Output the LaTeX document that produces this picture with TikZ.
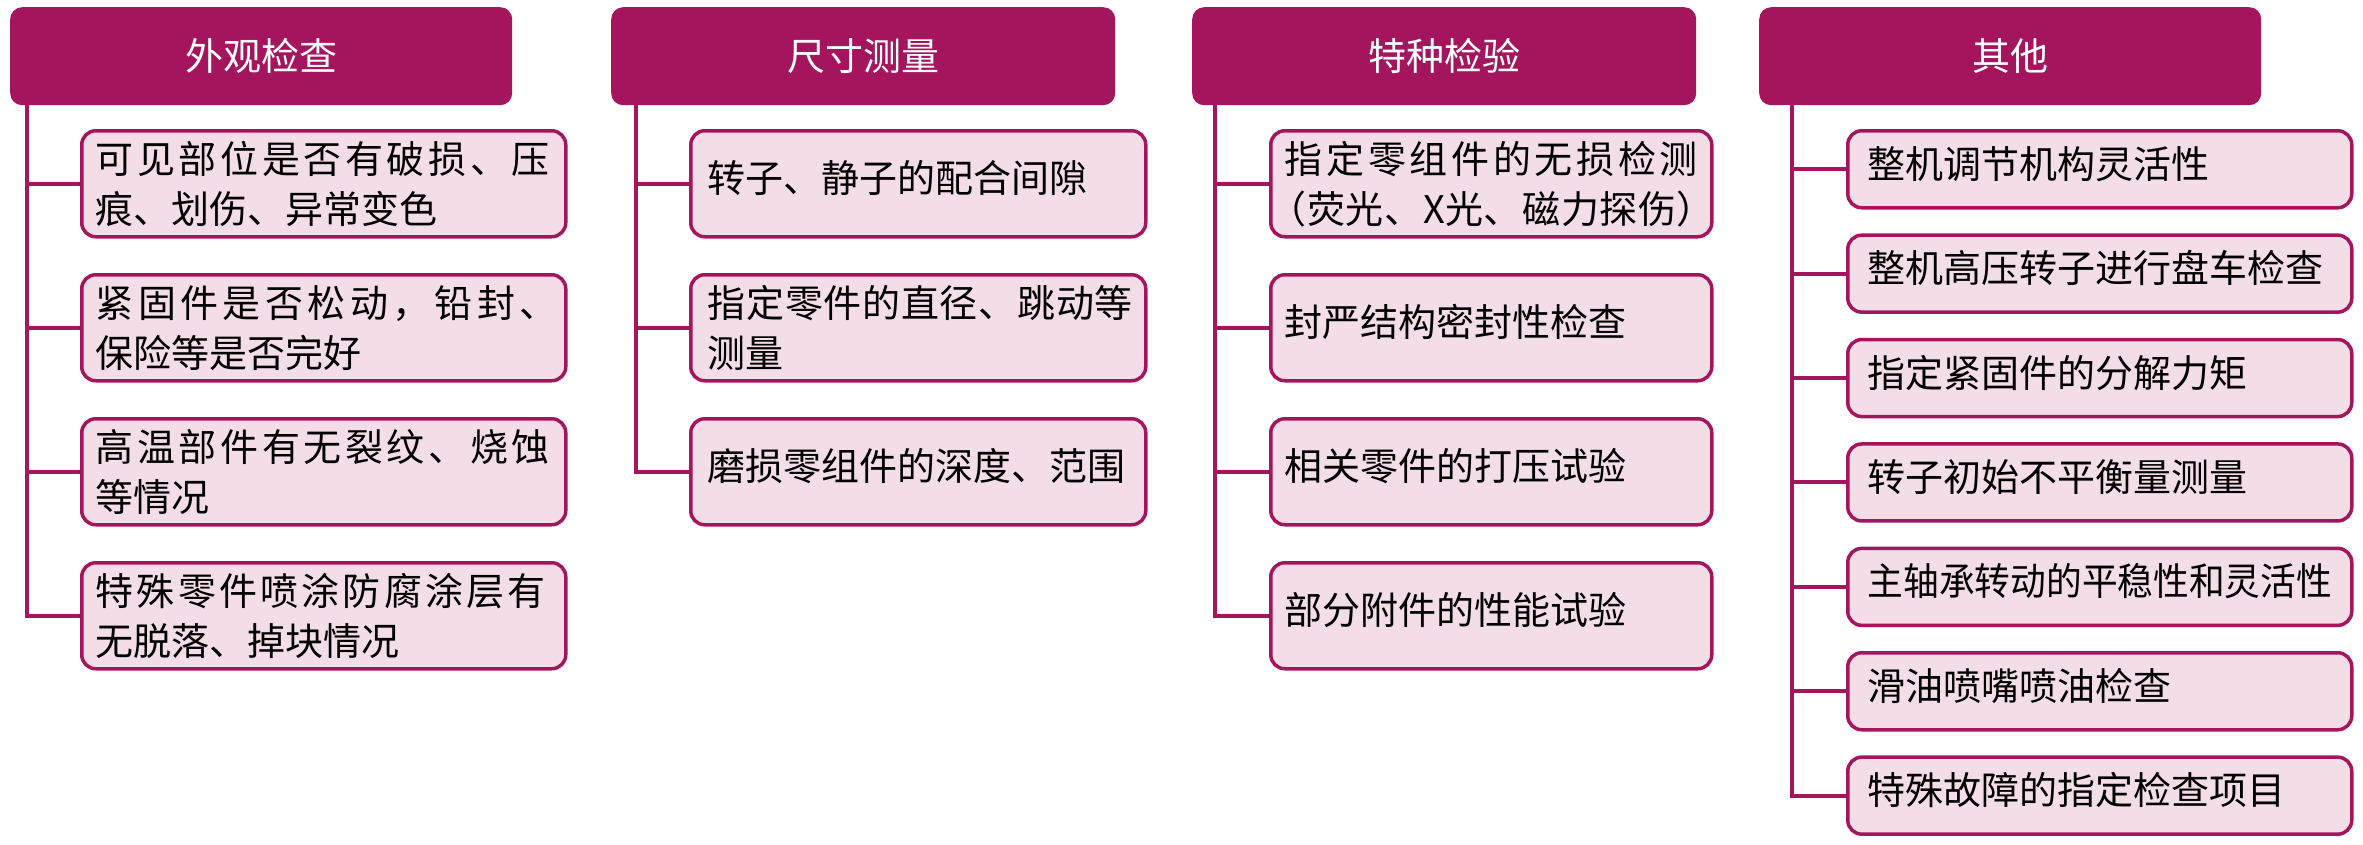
\documentclass[tikz,border=0pt]{standalone}
\usepackage{fontspec}
\setmainfont{Noto Sans CJK SC}
\definecolor{mag}{RGB}{165,21,94}
\definecolor{pinkfill}{RGB}{243,221,230}
\def\jstA#1{#1\jstB}
\def\jstB#1{\ifx\relax#1\else\hskip 0pt plus 1fil minus 1fil #1\expandafter\jstB\fi}
\newcommand\jst[2]{\leavevmode\hbox to #1{\jstA#2\relax}}
\begin{document}
\begin{tikzpicture}[x=1pt,y=-1pt,
  hdr/.style={fill=mag, rounded corners=12pt, text=white, anchor=north west,
    minimum height=98pt, inner sep=0pt, font=\fontsize{38pt}{46pt}\selectfont},
  itm/.style={draw=mag, line width=3.5pt, fill=pinkfill, rounded corners=14pt,
    anchor=north west, minimum height=106pt, align=left, inner ysep=0pt,
    font=\fontsize{38pt}{50pt}\selectfont},
  one/.style={text depth=14pt},
  cA/.style={itm, minimum width=484pt, text width=456pt, inner xsep=14pt},
  cB/.style={itm, minimum width=455pt, text width=421pt, inner xsep=17pt},
  cC/.style={itm, minimum width=441pt, text width=413pt, inner xsep=14pt},
  cD/.style={itm, one, minimum width=504pt, text width=464pt, inner xsep=20pt, minimum height=77pt},
  conn/.style={draw=mag, line width=4pt}]
\useasboundingbox (0,0) rectangle (2363,844);
\fill[white] (0,0) rectangle (2363,844);

% headers
\node[hdr, minimum width=502pt] (h1) at (10,7) {外观检查};
\node[hdr, minimum width=504pt] (h2) at (611,7) {尺寸测量};
\node[hdr, minimum width=504pt] (h3) at (1192,7) {特种检验};
\node[hdr, minimum width=502pt] (h4) at (1759,7) {其他};

% trunk coordinates
\coordinate (t1) at (27,100);
\coordinate (t2) at (636,100);
\coordinate (t3) at (1215,100);
\coordinate (t4) at (1792,100);

% column 1
\node[cA] (a1) at (80,129) {\jst{454pt}{可见部位是否有破损、压}\\痕、划伤、异常变色};
\node[cA] (a2) at (80,273) {\jst{462pt}{紧固件是否松动，铅封、}\\保险等是否完好};
\node[cA] (a3) at (80,417) {\jst{454pt}{高温部件有无裂纹、烧蚀}\\等情况};
\node[cA] (a4) at (80,561) {\jst{450pt}{特殊零件喷涂防腐涂层有}\\无脱落、掉块情况};

% column 2
\node[cB, one] (b1) at (689,129) {转子、静子的配合间隙};
\node[cB] (b2) at (689,273) {\jst{425pt}{指定零件的直径、跳动等}\\测量};
\node[cB, one] (b3) at (689,417) {磨损零组件的深度、范围};

% column 3
\node[cC] (c1) at (1269,129) {\jst{413pt}{指定零组件的无损检测}\\\hspace*{-16pt}\jst{446pt}{（荧光、X光、磁力探伤）}};
\node[cC, one] (c2) at (1269,273) {封严结构密封性检查};
\node[cC, one] (c3) at (1269,417) {相关零件的打压试验};
\node[cC, one] (c4) at (1269,561) {部分附件的性能试验};

% column 4
\node[cD] (d1) at (1846,129) {整机调节机构灵活性};
\node[cD] (d2) at (1846,233.4) {整机高压转子进行盘车检查};
\node[cD] (d3) at (1846,337.8) {指定紧固件的分解力矩};
\node[cD] (d4) at (1846,442.2) {转子初始不平衡量测量};
\node[cD] (d5) at (1846,546.6) {\scalebox{0.94}[1]{主轴承转动的平稳性和灵活性}};
\node[cD] (d6) at (1846,651) {滑油喷嘴喷油检查};
\node[cD] (d7) at (1846,755.4) {特殊故障的指定检查项目};

% connectors
\foreach \n in {a1,a2,a3,a4} \draw[conn] (t1) |- (\n.west);
\foreach \n in {b1,b2,b3} \draw[conn] (t2) |- (\n.west);
\foreach \n in {c1,c2,c3,c4} \draw[conn] (t3) |- (\n.west);
\foreach \n in {d1,d2,d3,d4,d5,d6,d7} \draw[conn] (t4) |- (\n.west);
\end{tikzpicture}
\end{document}
